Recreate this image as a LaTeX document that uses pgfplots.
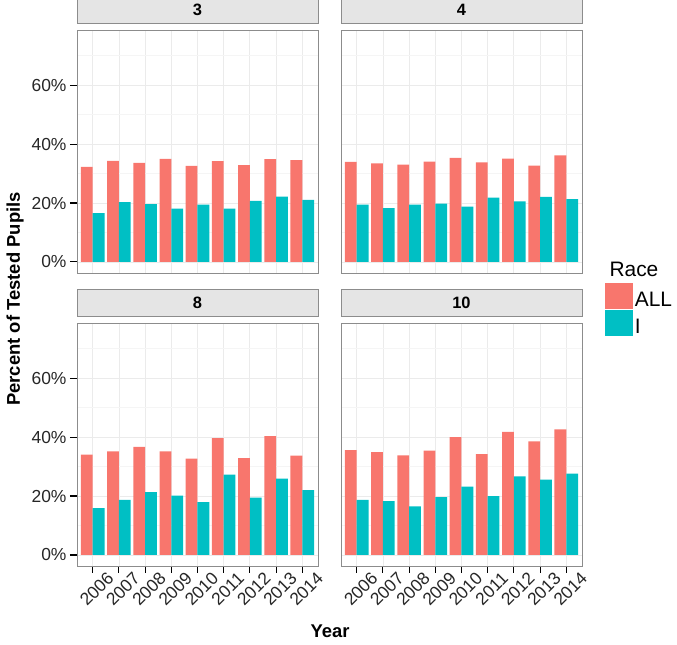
\documentclass[border=0pt]{standalone}
\usepackage{pgfplots}
\pgfplotsset{compat=1.18}
\usepackage{fontspec}
\setmainfont{Liberation Sans}
\definecolor{salmon}{HTML}{F8766D}
\definecolor{tealc}{HTML}{00BFC4}
\definecolor{stripgray}{HTML}{E5E5E5}
\definecolor{border}{HTML}{8C8C8C}
\definecolor{gridmaj}{HTML}{EBEBEB}
\definecolor{gridmin}{HTML}{F5F5F5}
\pgfplotsset{
  panel/.style={
    scale only axis, width=241bp, height=243bp,
    xmin=0.4, xmax=9.6, ymin=-3.75, ymax=78.75,
    xtick={1,...,9}, ytick={0,20,40,60}, minor ytick={10,30,50,70},
    yticklabels={0\%,20\%,40\%,60\%},
    xticklabels={2006,2007,2008,2009,2010,2011,2012,2013,2014},
    grid=both,
    major grid style={draw=gridmaj, line width=0.8bp},
    minor grid style={draw=gridmin, line width=0.6bp},
    axis line style={draw=border, line width=0.9bp},
    tick pos=left,
    tick align=outside, major tick length=7bp, minor tick length=0pt,
    tick style={black, line width=1.1bp},
    /pgf/number format/assume math mode=true,
    tick label style={font=\fontsize{17.5}{20}\selectfont, text=black!85},
    xticklabel style={xshift=4bp, yshift=-16bp, rotate=45, anchor=center},
    title style={at={(0.5,1)}, anchor=south, fill=stripgray, draw=border, line width=0.9bp,
      minimum width=241bp, minimum height=27bp, inner sep=0pt,
      font=\bfseries\fontsize{16.5}{18}\selectfont},
  },
  allbar/.style={ybar, bar width=0.45, bar shift=-0.225, fill=salmon, draw=none,
    legend image code/.code={\fill[fill=salmon] (0bp,-9bp) rectangle (27.7bp,17bp);}},
  ibar/.style={ybar, bar width=0.45, bar shift=0.225, fill=tealc, draw=none,
    legend image code/.code={\fill[fill=tealc] (0bp,-9bp) rectangle (27.7bp,17bp);}},
}
\begin{document}
\begin{tikzpicture}
\useasboundingbox (0,0) rectangle (677bp,645bp);
% Grade 3
\begin{axis}[panel, at={(77bp,372bp)}, anchor=south west, title={3}, xmajorticks=false]
\addplot[allbar] coordinates {(1,32.3) (2,34.3) (3,33.6) (4,35.0) (5,32.6) (6,34.2) (7,32.9) (8,34.9) (9,34.6)};
\addplot[ibar] coordinates {(1,16.6) (2,20.3) (3,19.6) (4,18.1) (5,19.5) (6,18.1) (7,20.7) (8,22.2) (9,21.1)};
\end{axis}
% Grade 4
\begin{axis}[panel, at={(341bp,372bp)}, anchor=south west, title={4}, xmajorticks=false, ymajorticks=false,
  legend style={at={(axis description cs:1.0954,-0.0412)}, anchor=north west, draw=none, fill=none,
    inner sep=0pt, row sep=1bp, column sep=2bp, font=\fontsize{21}{24}\selectfont, nodes={inner sep=0pt}},
  legend cell align=left]
\addplot[allbar] coordinates {(1,34.0) (2,33.5) (3,33.0) (4,34.1) (5,35.3) (6,33.8) (7,35.1) (8,32.7) (9,36.2)};
\addlegendentry{ALL}
\addplot[ibar] coordinates {(1,19.5) (2,18.3) (3,19.5) (4,19.8) (5,18.8) (6,21.8) (7,20.6) (8,22.1) (9,21.3)};
\addlegendentry{I}
\end{axis}
% Grade 8
\begin{axis}[panel, at={(77bp,79bp)}, anchor=south west, title={8}]
\addplot[allbar] coordinates {(1,34.1) (2,35.2) (3,36.7) (4,35.2) (5,32.7) (6,39.7) (7,32.9) (8,40.3) (9,33.7)};
\addplot[ibar] coordinates {(1,15.9) (2,18.7) (3,21.3) (4,20.1) (5,17.9) (6,27.3) (7,19.5) (8,25.9) (9,22.0)};
\end{axis}
% Grade 10
\begin{axis}[panel, at={(341bp,79bp)}, anchor=south west, title={10}, ymajorticks=false]
\addplot[allbar] coordinates {(1,35.6) (2,34.9) (3,33.8) (4,35.4) (5,40.0) (6,34.2) (7,41.8) (8,38.6) (9,42.6)};
\addplot[ibar] coordinates {(1,18.7) (2,18.3) (3,16.5) (4,19.6) (5,23.2) (6,20.0) (7,26.7) (8,25.6) (9,27.6)};
\end{axis}
\node[rotate=90, font=\bfseries\fontsize{18.5}{21}\selectfont] at (15bp,346bp) {Percent of Tested Pupils};
\node[font=\bfseries\fontsize{18.5}{21}\selectfont] at (330bp,14bp) {Year};
\node[anchor=base west, font=\fontsize{21}{24}\selectfont] at (606bp,368bp) {Race};
\end{tikzpicture}
\end{document}
